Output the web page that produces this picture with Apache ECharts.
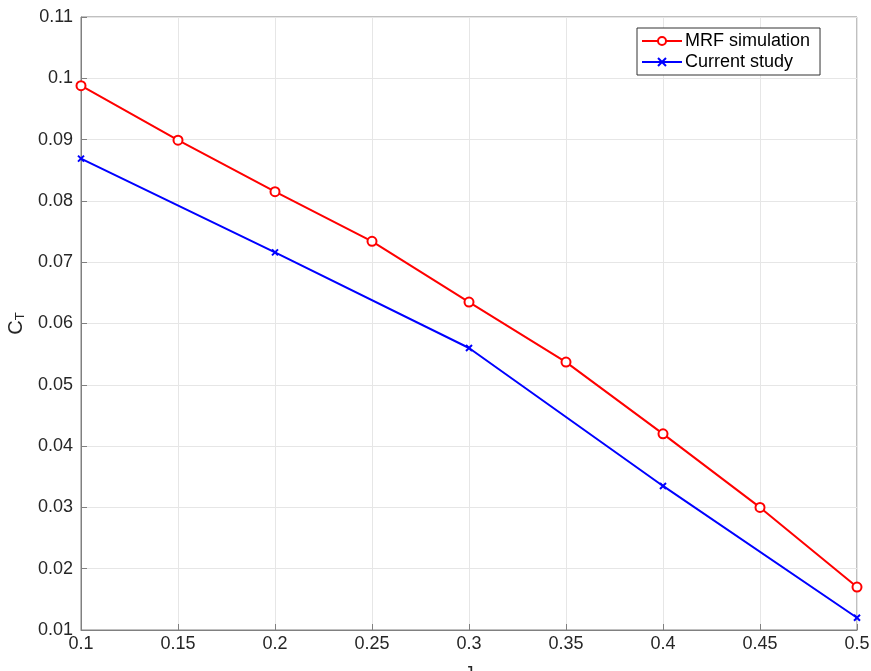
<!DOCTYPE html>
<html><head><meta charset="utf-8">
<script src="https://cdn.jsdelivr.net/npm/echarts@6/dist/echarts.min.js"></script>
<style>html,body{margin:0;padding:0;background:#fff}#c{width:871px;height:671px}</style>
</head><body><div id="c"></div>
<script>
const xMRF = [0.1, 0.15, 0.2, 0.25, 0.3, 0.35, 0.4, 0.45, 0.5];
const yMRF = [0.0988, 0.0899, 0.0815, 0.0734, 0.0635, 0.0537, 0.0420, 0.0300, 0.0170];
const xCur = [0.1, 0.2, 0.3, 0.4, 0.5];
const yCur = [0.0869, 0.0716, 0.0560, 0.0335, 0.0120];
const seriesNames = ['MRF simulation', 'Current study'];
const xTicks = ['0.1','0.15','0.2','0.25','0.3','0.35','0.4','0.45','0.5'];

const chart = echarts.init(document.getElementById('c'));
const axisCol = '#808080';
const txt = '#262626';
const font = 'Liberation Sans, Arial, sans-serif';
chart.setOption({
  animation: false,
  textStyle: {fontFamily: font},
  grid: {left: 81, right: 14, top: 17, bottom: 41, show: true, borderColor: axisCol, borderWidth: 1, outerBoundsMode: 'none', containLabel: false},
  legend: {
    orient: 'vertical', left: 637, top: 28, itemWidth: 40, itemHeight: 10, itemGap: 3,
    padding: [4, 10, 4, 4],
    borderColor: '#333', borderWidth: 1, backgroundColor: '#fff',
    textStyle: {fontSize: 18, color: '#000', fontFamily: font, padding: [0, 0, 0, -2]},
    data: seriesNames
  },
  xAxis: {
    type: 'value', min: 0.1, max: 0.5, interval: 0.05,
    name: 'J', nameLocation: 'middle', nameGap: 35,
    nameTextStyle: {fontSize: 18, color: txt},
    axisLine: {lineStyle: {color: axisCol}},
    axisTick: {inside: true, length: 6, lineStyle: {color: axisCol}},
    axisLabel: {fontSize: 18, color: txt, margin: 5, formatter: v => { const i = Math.round((v-0.1)/0.05); return xTicks[i] ?? ''; }},
    splitLine: {show: true, lineStyle: {color: '#e6e6e6'}}
  },
  yAxis: {
    type: 'value', min: 0.01, max: 0.11, interval: 0.01,
    name: '{c|C}{s|T}', nameLocation: 'middle', nameGap: 52, nameRotate: 90,
    nameTextStyle: {rich: {c: {fontSize: 20, color: txt}, s: {fontSize: 13, color: txt, verticalAlign: 'bottom', padding: [9,0,0,0]}}},
    axisLine: {lineStyle: {color: axisCol}},
    axisTick: {inside: true, length: 6, lineStyle: {color: axisCol}},
    axisLabel: {fontSize: 18, color: txt, margin: 8, formatter: v => String(+v.toFixed(2))},
    splitLine: {show: true, lineStyle: {color: '#e6e6e6'}}
  },
  series: [
    {name: seriesNames[0], type: 'line', data: xMRF.map((x,i)=>[x,yMRF[i]]),
     symbol: 'circle', symbolSize: 9, showAllSymbol: true,
     lineStyle: {color: '#ff0000', width: 2},
     itemStyle: {color: '#fff', borderColor: '#ff0000', borderWidth: 2}, clip: false, z: 3},
    {name: seriesNames[1], type: 'line', data: xCur.map((x,i)=>[x,yCur[i]]),
     symbol: 'path://M0,0L10,10M10,0L0,10', symbolSize: 6,
     lineStyle: {color: '#0000ff', width: 2},
     itemStyle: {color: '#0000ff', borderColor: '#0000ff', borderWidth: 2}, clip: false, z: 2}
  ]
});
</script></body></html>
